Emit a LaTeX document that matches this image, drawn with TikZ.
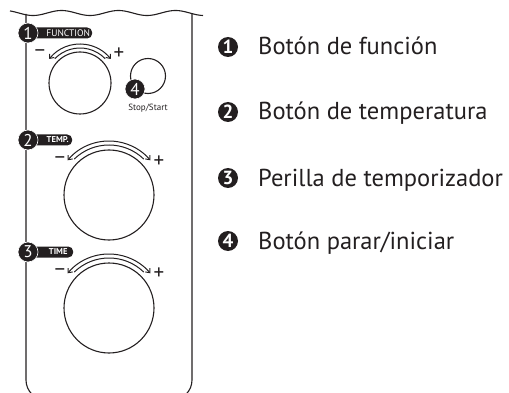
\documentclass[tikz,border=0pt]{standalone}
\usepackage{fontspec}
\setmainfont{PT Sans}
\usetikzlibrary{arrows.meta}
\definecolor{ink}{HTML}{231F20}
\begin{document}
\begin{tikzpicture}[x=1pt,y=-1pt,
  ln/.style={draw=ink, line width=1.1pt},
  knob/.style={circle, draw=ink, line width=1.1pt, inner sep=0pt},
  rot/.style={draw=ink, line width=1pt, {Straight Barb[length=3.5pt,width=6pt]}-{Straight Barb[length=3.5pt,width=6pt]}},
  rotin/.style={draw=ink, line width=1pt},
  digit/.style={text=white, inner sep=0pt, font=\fontsize{17}{17}\selectfont},
  ldigit/.style={text=white, inner sep=0pt, font=\fontsize{19}{19}\selectfont\bfseries},
  pill/.style={fill=ink, text=white, rounded corners=5pt, inner sep=0pt, minimum height=11pt, anchor=west},
  pm/.style={text=ink, inner sep=0pt, font=\fontsize{21}{21}\selectfont},
  legend/.style={text=ink, inner sep=0pt, anchor=base west, font=\fontsize{24.5}{25}\selectfont}
]
\useasboundingbox (0,0) rectangle (509,393);
\begin{scope}
\clip (0,0) rectangle (509,393);
% wavy top
\draw[ln] plot[domain=10:203, samples=120, smooth] (\x, {13 + 2.5*cos((\x-33)/57*360)});
% panel outline
\draw[ln, rounded corners=20pt] (26,14) -- (26,400) -- (192,400) -- (192,14);
\end{scope}

% knob 1 FUNCTION
\node[knob, minimum size=62pt] (k1) at (80,83) {};
\draw[rot] ([shift={(-142:39)}]k1.center) arc[start angle=-142, end angle=-38, radius=39];
\draw[rotin] ([shift={(-136:35)}]k1.center) arc[start angle=-136, end angle=-44, radius=35];
\node[pm] (m1) at (40,54) {−};
\node[pm] (p1) at (119,54) {+};
\node[pill, minimum width=64pt, font=\fontsize{9.5}{9.5}\selectfont] (t1) at (28,33) {\hspace*{16pt}FUNCTION};
\fill[ink, draw=white, line width=0.6pt] (28,33) circle[radius=10];
\node[digit] (b1) at (28,33) {1};

% knob 4 Stop/Start
\node[knob, minimum size=35pt] (k4) at (148,76) {};
\fill[ink, draw=white, line width=0.6pt] (135,89) circle[radius=10];
\node[digit] (b4) at (135,89) {4};
\node[text=ink, inner sep=0pt, font=\fontsize{9}{9}\selectfont] (s4) at (148,108) {Stop/Start};

% knob 2 TEMP.
\node[knob, minimum size=90pt] (k2) at (109,195) {};
\draw[rot] ([shift={(-140:54)}]k2.center) arc[start angle=-140, end angle=-40, radius=54];
\draw[rotin] ([shift={(-134:50)}]k2.center) arc[start angle=-134, end angle=-46, radius=50];
\node[pm] (m2) at (60,161) {−};
\node[pm] (p2) at (159,162) {+};
\node[pill, minimum width=44pt, font=\fontsize{8.5}{8.5}\selectfont\bfseries] (t2) at (28,140) {\hspace*{15pt}TEMP.};
\fill[ink, draw=white, line width=0.6pt] (28,140) circle[radius=10];
\node[digit] (b2) at (28,140) {2};

% knob 3 TIME
\node[knob, minimum size=90pt] (k3) at (109,308) {};
\draw[rot] ([shift={(-140:54)}]k3.center) arc[start angle=-140, end angle=-40, radius=54];
\draw[rotin] ([shift={(-134:50)}]k3.center) arc[start angle=-134, end angle=-46, radius=50];
\node[pm] (m3) at (60,273) {−};
\node[pm] (p3) at (159,274) {+};
\node[pill, minimum width=45pt, font=\fontsize{8.5}{8.5}\selectfont\bfseries] (t3) at (28,252) {\hspace*{15pt}TIME};
\fill[ink, draw=white, line width=0.6pt] (28,252) circle[radius=10];
\node[digit] (b3) at (28,252) {3};

% legend
\fill[ink] (228,47) circle[radius=10];
\node[ldigit] (l1) at (228,47) {1};
\node[legend] (e1) at (258,55) {Botón de función};
\fill[ink] (228,112) circle[radius=10];
\node[ldigit] (l2) at (228,112) {2};
\node[legend] (e2) at (258,120) {Botón de temperatura};
\fill[ink] (228,178) circle[radius=10];
\node[ldigit] (l3) at (228,178) {3};
\node[legend] (e3) at (258,186) {Perilla de temporizador};
\fill[ink] (228,241) circle[radius=10];
\node[ldigit] (l4) at (228,241) {4};
\node[legend] (e4) at (258,249) {Botón parar/iniciar};
\end{tikzpicture}
\end{document}
